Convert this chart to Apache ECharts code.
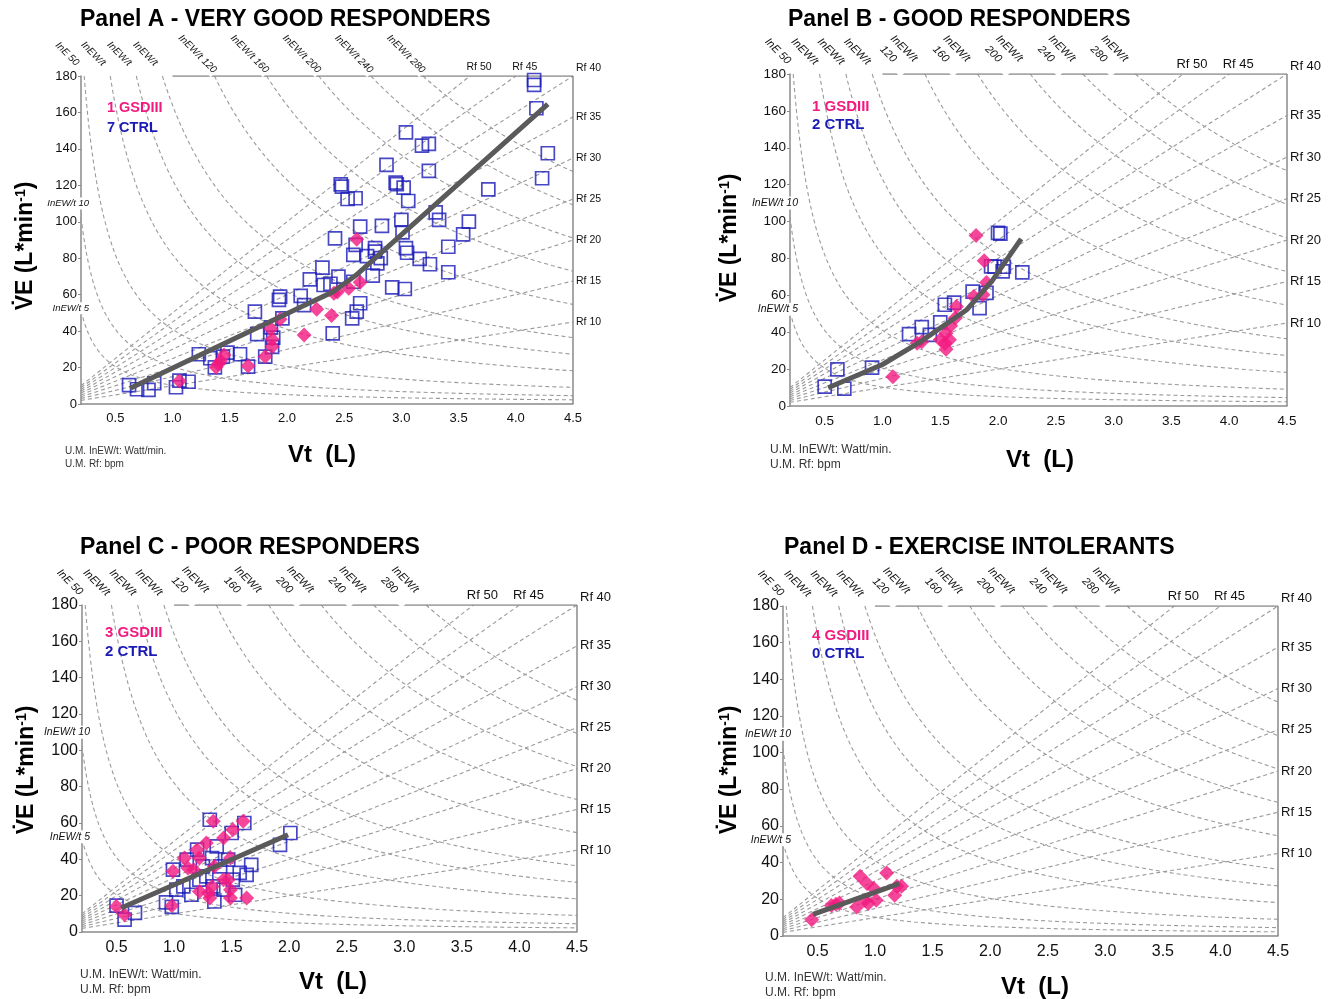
<!DOCTYPE html>
<html>
<head>
<meta charset="utf-8">
<title>Responders panels</title>
<script src="https://cdn.jsdelivr.net/npm/echarts@6/dist/echarts.min.js"></script>
<style>html,body{margin:0;background:#fff}#main{width:1335px;height:999px}</style>
</head>
<body>
<div id="main"></div>
<script>
// values: [Vt (L), VE (L/min)]
var aCtrl = [[0.62,10.4],[0.69,8.1],[0.79,7.7],[0.84,11.4],[1.03,9.2],[1.06,12.8],[1.14,12.2],[1.23,27.3],[1.33,25.1],[1.37,20.1],[1.44,26.0],[1.48,28.2],[1.59,27.3],[1.66,20.5],[1.72,50.7],[1.74,38.3],[1.81,26.0],[1.86,42.0],[1.87,31.4],[1.88,36.4],[1.93,57.1],[1.94,58.9],[1.96,47.0],[2.12,59.3],[2.15,54.3],[2.20,68.4],[2.31,74.8],[2.32,65.3],[2.38,66.0],[2.40,38.8],[2.42,90.9],[2.45,69.9],[2.57,47.0],[2.58,67.1],[2.58,81.8],[2.60,87.3],[2.61,50.7],[2.64,55.3],[2.64,97.3],[2.70,81.2],[2.75,70.4],[2.77,83.6],[2.77,85.5],[2.79,77.2],[2.82,80.0],[2.83,97.7],[2.92,64.0],[3.00,101.0],[3.01,94.2],[3.03,63.1],[3.04,85.5],[3.05,83.0],[3.16,79.6],[3.25,76.7],[3.41,72.3],[3.41,86.3],[3.54,93.1],[3.59,100.1],[3.30,105.2],[3.33,101.0],[3.06,111.4],[3.02,118.7],[2.95,121.5],[2.96,120.6],[2.53,112.5],[2.60,112.9],[2.47,120.5],[2.48,119.3],[2.87,131.2],[3.24,127.9],[3.04,149.1],[3.18,141.8],[3.24,142.7],[3.76,117.8],[4.23,123.9],[4.28,137.6],[4.18,162.3],[4.16,175.1],[4.16,177.8]];
var aGsd = [[1.06,12.6],[1.38,20.1],[1.40,22.0],[1.42,23.6],[1.45,26.9],[1.66,20.9],[1.81,26.0],[1.86,41.2],[1.87,35.5],[1.87,31.4],[1.94,46.5],[2.15,37.9],[2.26,52.0],[2.39,48.5],[2.41,60.8],[2.44,61.5],[2.54,63.5],[2.64,66.8],[2.61,90.4]];
var aFit = [[0.63,8.6],[2.2,55.5],[2.4,61.5],[2.6,70.5],[4.28,164.6]];

var bCtrl = [[0.50,10.5],[0.61,19.9],[0.67,9.4],[0.91,20.8],[1.23,39.0],[1.34,42.8],[1.41,38.6],[1.50,45.3],[1.54,54.9],[1.62,56.1],[1.78,62.0],[1.84,53.1],[1.90,61.3],[1.94,75.7],[1.97,75.5],[2.00,93.9],[2.02,93.5],[2.04,73.0],[2.05,75.5],[2.21,72.4]];
var bGsd = [[1.81,92.4],[1.88,78.8],[1.90,67.0],[1.79,59.4],[1.87,60.3],[1.64,54.0],[1.63,47.7],[1.59,43.5],[1.55,39.5],[1.58,35.9],[1.54,34.0],[1.55,30.8],[1.50,35.9],[1.30,34.0],[1.34,34.9],[1.09,15.9]];
var bFit = [[0.53,9.9],[1.0,22.5],[1.32,34.5],[1.73,52.2],[1.95,68.0],[2.2,90.6]];

var cCtrl = [[0.50,14.5],[0.57,6.8],[0.66,10.5],[0.93,16.3],[0.99,34.3],[0.98,13.8],[1.02,23.3],[1.08,25.1],[1.11,39.8],[1.15,20.5],[1.20,45.3],[1.22,28.8],[1.25,36.1],[1.28,30.6],[1.31,61.8],[1.33,40.7],[1.34,25.1],[1.35,16.8],[1.37,47.1],[1.40,36.1],[1.43,23.3],[1.47,39.8],[1.50,54.5],[1.51,28.8],[1.53,20.5],[1.57,32.5],[1.61,60.0],[1.63,31.5],[1.67,37.0],[1.92,48.0],[2.01,54.5]];
var cGsd = [[0.50,14.0],[0.57,9.5],[0.98,14.5],[0.99,33.4],[1.09,40.7],[1.12,35.2],[1.17,34.3],[1.20,45.3],[1.22,40.7],[1.28,49.0],[1.34,60.9],[1.22,22.3],[1.30,21.5],[1.33,25.1],[1.31,18.7],[1.35,36.1],[1.43,51.7],[1.43,28.8],[1.47,28.8],[1.49,40.7],[1.49,23.3],[1.49,18.7],[1.51,56.3],[1.60,60.9],[1.63,18.7]];
var cFit = [[0.54,13.2],[1.99,53.5]];

var dCtrl = [];
var dGsd = [[0.45,8.9],[0.62,16.7],[0.66,17.3],[0.69,18.0],[0.84,15.8],[0.87,32.6],[0.93,28.6],[0.91,19.5],[0.94,17.7],[0.99,25.9],[1.01,19.5],[1.10,34.4],[1.17,22.2],[1.19,27.1],[1.23,27.1]];
var dFit = [[0.46,11.8],[1.21,28.6]];

var xTicks = [0.5,1.0,1.5,2.0,2.5,3.0,3.5,4.0,4.5];
var rfValues = [10,15,20,25,30,35,40,45,50];
var rfRightLabels = ['Rf 10','Rf 15','Rf 20','Rf 25','Rf 30','Rf 35','Rf 40'];
var rfTopLabels = ['Rf 45','Rf 50'];
var ewValues = [5,10,20,40,60,80,120,160,200,240,280];
var ewTopValues = [20,40,60,80,120,160,200,240,280];
var ewTopText = ['InE 50','InEW/t','InEW/t','InEW/t','InEW/t 120','InEW/t 160','InEW/t 200','InEW/t 240','InEW/t 280'];
var ewTopTextWrapped = ['InE 50','InEW/t','InEW/t','InEW/t','InEW/t\n120','InEW/t\n160','InEW/t\n200','InEW/t\n240','InEW/t\n280'];
var ewLeftLabels = [['InEW/t 10',110],['InEW/t 5',52.5]];

var X_MIN = 0.2, X_MAX = 4.5, Y_MAX = 180;
var EW_K = 2.05; // VE * Vt = EW_K * InEW/t
var FONT = '"Liberation Sans", Arial, sans-serif';
var PINK = '#f3197f', BLUE = '#1a1ab8', GUIDE = '#9a9a9a', FRAME = '#8a8a8a';

var panels = [
  {grid:{left:81,top:76,width:492,height:328}, ctrl:aCtrl, gsd:aGsd, fit:aFit,
   title:'Panel A - VERY GOOD RESPONDERS', titlePos:[80,20], counts:['1 GSDIII','7 CTRL'], countPos:[107,108,128],
   yName:[26,246], xName:[322,455], note:[65,451,464], tick:13, small:10, rf:10.5, cnt:14.5, noteSize:10,
   top:ewTopText, wrap:false},
  {grid:{left:790,top:74,width:497,height:332}, ctrl:bCtrl, gsd:bGsd, fit:bFit,
   title:'Panel B - GOOD RESPONDERS', titlePos:[788,20], counts:['1 GSDIII','2 CTRL'], countPos:[812,107,125],
   yName:[730,238], xName:[1040,460], note:[770,450,465], tick:13.5, small:11, rf:13, cnt:15, noteSize:12,
   top:ewTopTextWrapped, wrap:true},
  {grid:{left:82,top:605,width:495,height:327}, ctrl:cCtrl, gsd:cGsd, fit:cFit,
   title:'Panel C - POOR RESPONDERS', titlePos:[80,548], counts:['3 GSDIII','2 CTRL'], countPos:[105,633,652],
   yName:[27,770], xName:[333,982], note:[80,975,990], tick:16, small:11, rf:13, cnt:15, noteSize:12,
   top:ewTopTextWrapped, wrap:true},
  {grid:{left:783,top:606,width:495,height:330}, ctrl:dCtrl, gsd:dGsd, fit:dFit,
   title:'Panel D - EXERCISE INTOLERANTS', titlePos:[784,548], counts:['4 GSDIII','0 CTRL'], countPos:[812,636,654],
   yName:[730,770], xName:[1035,987], note:[765,978,993], tick:16, small:11, rf:13, cnt:15, noteSize:12,
   top:ewTopTextWrapped, wrap:true}
];

var chart = echarts.init(document.getElementById('main'));

var option = {animation:false, backgroundColor:'#fff', grid:[], xAxis:[], yAxis:[], series:[]};

panels.forEach(function (p, i) {
  option.grid.push(p.grid);
  option.xAxis.push({
    gridIndex:i, type:'value', min:X_MIN, max:X_MAX,
    axisLine:{lineStyle:{color:FRAME, width:1.5}},
    axisTick:{show:false},
    splitLine:{show:false},
    axisLabel:{customValues:xTicks, formatter:function (v) { return v.toFixed(1); },
               fontSize:p.tick, color:'#111', fontFamily:FONT, margin:8}
  });
  option.yAxis.push({
    gridIndex:i, type:'value', min:0, max:Y_MAX, interval:20,
    axisLine:{show:true, lineStyle:{color:FRAME, width:1.5}},
    axisTick:{show:true, length:3, lineStyle:{color:FRAME}},
    splitLine:{show:false},
    axisLabel:{fontSize:p.tick, color:'#111', fontFamily:FONT, margin:4}
  });
  var ax = {xAxisIndex:i, yAxisIndex:i};
  var dashed = {color:GUIDE, width:1.1, type:[4,3]};
  rfValues.forEach(function (rf) {
    var xe = Math.min(X_MAX, Y_MAX / rf);
    option.series.push(Object.assign({type:'line', silent:true, symbol:'none', z:1,
      lineStyle:dashed, data:[[X_MIN, X_MIN * rf], [xe, xe * rf]]}, ax));
  });
  ewValues.forEach(function (w) {
    var c = EW_K * w, pts = [];
    var x0 = Math.max(X_MIN, c / Y_MAX);
    for (var k = 0; k <= 90; k++) {
      var x = x0 * Math.pow(X_MAX / x0, k / 90);
      pts.push([x, c / x]);
    }
    option.series.push(Object.assign({type:'line', silent:true, symbol:'none', z:1,
      lineStyle:dashed, data:pts}, ax));
  });
  // frame: right side and top edge
  option.series.push(Object.assign({type:'line', silent:true, symbol:'none', z:1,
    lineStyle:{color:FRAME, width:1.5}, data:[[X_MAX, 0], [X_MAX, Y_MAX]]}, ax));
  option.series.push(Object.assign({type:'line', silent:true, symbol:'none', z:1,
    lineStyle:{color:FRAME, width:1.3}, data:[[1.0, Y_MAX], [X_MAX, Y_MAX]]}, ax));
  option.series.push(Object.assign({type:'scatter', name:'CTRL', symbol:'rect', symbolSize:13, z:3,
    itemStyle:{color:'rgba(0,0,0,0)', borderColor:BLUE, borderWidth:1.7}, data:p.ctrl}, ax));
  option.series.push(Object.assign({type:'scatter', name:'GSDIII', symbol:'diamond', symbolSize:15, z:4,
    itemStyle:{color:PINK}, data:p.gsd}, ax));
  option.series.push(Object.assign({type:'line', name:'fit', symbol:'none', z:5,
    lineStyle:{color:'#5a5a5a', width:5}, data:p.fit}, ax));
});

chart.setOption(option);

function txt(x, y, text, st, rot) {
  var style = Object.assign({text:text, fill:'#111', fontFamily:FONT}, st);
  if (style.align) { style.textAlign = style.align; }
  if (style.verticalAlign) { style.textVerticalAlign = style.verticalAlign; }
  return {type:'text', x:x, y:y, rotation:rot || 0, z:100, style:style};
}

var g = [];
panels.forEach(function (p, i) {
  var px = function (pt) { return chart.convertToPixel({xAxisIndex:i, yAxisIndex:i}, pt); };
  g.push(txt(p.titlePos[0], p.titlePos[1], p.title, {fontSize:23, fontWeight:'bold', align:'left', verticalAlign:'middle', fill:'#000'}));
  g.push(txt(p.countPos[0], p.countPos[1], p.counts[0], {fontSize:p.cnt, fontWeight:'bold', fill:PINK, align:'left', verticalAlign:'middle'}));
  g.push(txt(p.countPos[0], p.countPos[2], p.counts[1], {fontSize:p.cnt, fontWeight:'bold', fill:BLUE, align:'left', verticalAlign:'middle'}));
  g.push(txt(p.yName[0], p.yName[1], '{m|V\u0307E (L*min}{s|-1}{m|)}', {align:'center', verticalAlign:'middle',
    rich:{m:{fontSize:23, fontWeight:'bold', fontFamily:FONT, fill:'#000'}, s:{fontSize:14, fontWeight:'bold', fontFamily:FONT, verticalAlign:'top', fill:'#000'}}}, Math.PI / 2));
  g.push(txt(p.xName[0], p.xName[1], 'Vt  (L)', {fontSize:24, fontWeight:'bold', align:'center', verticalAlign:'middle', fill:'#000'}));
  g.push(txt(p.note[0], p.note[1], 'U.M. InEW/t: Watt/min.', {fontSize:p.noteSize, align:'left', verticalAlign:'middle', fill:'#333'}));
  g.push(txt(p.note[0], p.note[2], 'U.M. Rf: bpm', {fontSize:p.noteSize, align:'left', verticalAlign:'middle', fill:'#333'}));
  // Rf labels
  rfRightLabels.forEach(function (t, k) {
    var rf = rfValues[k], q = px([X_MAX, X_MAX * rf]);
    g.push(txt(q[0] + 3, q[1] + (rf === 40 ? -8 : 0), t, {fontSize:p.rf, align:'left', verticalAlign:'middle'}));
  });
  rfTopLabels.forEach(function (t, k) {
    var rf = rfValues[7 + k], q = px([Y_MAX / rf, Y_MAX]);
    g.push(txt(q[0] + 9, q[1] - 3, t, {fontSize:p.rf, align:'center', verticalAlign:'bottom'}));
  });
  // InEW/t labels along the top edge
  ewTopValues.forEach(function (w, k) {
    var q = px([EW_K * w / Y_MAX, Y_MAX]);
    var t = p.top[k];
    var st = {fontSize:p.small, fontStyle:'italic', lineHeight:p.small + 4, backgroundColor:'#fff', padding:[0, 1]};
    var x, y;
    if (p.wrap) {
      st.align = 'left'; st.verticalAlign = 'top';
      var two = t.indexOf('\n') >= 0;
      x = q[0] + (two ? -28 : -22); y = q[1] + (two ? -43 : -40);
    } else {
      st.align = 'center'; st.verticalAlign = 'middle';
      x = q[0] - 17; y = q[1] - 22;
    }
    g.push(txt(x, y, t, st, -Math.PI / 4));
  });
  ewLeftLabels.forEach(function (l) {
    var q = px([X_MIN, l[1]]);
    g.push(txt(q[0] + 8, q[1], l[0], {fontSize:p.small - 0.5, fontStyle:'italic', align:'right', verticalAlign:'middle',
      backgroundColor:'#fff', padding:[1, 0]}));
  });
});
chart.setOption({graphic:g});
</script>
</body>
</html>
